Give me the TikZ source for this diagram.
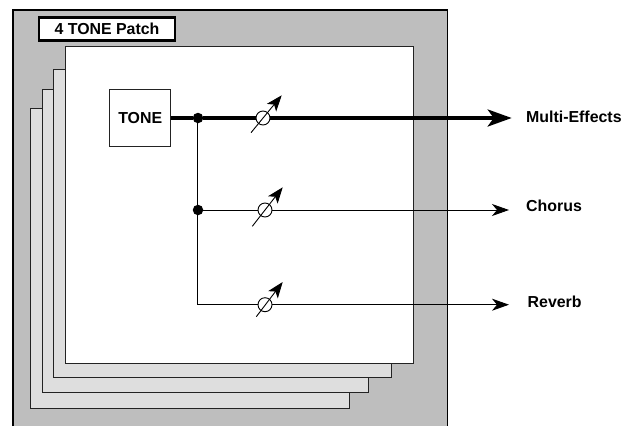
\documentclass[tikz,border=0pt]{standalone}
\usepackage{fontspec}
\setmainfont{Liberation Sans}
\usetikzlibrary{arrows.meta, positioning}
\definecolor{patchgray}{RGB}{190,190,190}
\definecolor{sheetgray}{RGB}{222,222,222}
\definecolor{inkline}{RGB}{35,35,35}
\tikzset{
  hoja/.style={rectangle, anchor=north west, inner sep=0pt, outer sep=0pt,
    draw=inkline, line width=1pt, fill=sheetgray},
  hojafront/.style={hoja, fill=white},
  caja/.style={rectangle, draw=black, fill=white, line width=2.4pt, inner sep=0pt,
    minimum width=136.5pt, minimum height=23pt, font=\fontsize{15.9}{18}\selectfont\bfseries},
  tonebox/.style={rectangle, draw=inkline, fill=white, line width=1pt, inner sep=0pt,
    minimum width=61.5pt, minimum height=57pt, font=\fontsize{15.9}{18}\selectfont\bfseries},
  etiq/.style={anchor=west, inner sep=0pt, font=\fontsize{15.9}{18}\selectfont\bfseries},
  punto/.style={circle, fill=black, inner sep=0pt, minimum size=10.5pt},
  perilla/.style={circle, draw=black, line width=0.9pt, fill=white, inner sep=0pt, minimum size=14pt},
  senal/.style={draw=black, line width=0.9pt},
  senalg/.style={draw=black, line width=3.6pt},
  flecha/.style={senal, -{Stealth[length=17pt, width=12pt, inset=5pt]}},
  flechag/.style={senalg, -{Stealth[length=24pt, width=17pt, inset=6pt]}},
  ajuste/.style={draw=black, line width=0.9pt, -{Stealth[length=16pt, width=12pt, inset=4pt]}}
}
\begin{document}
\begin{tikzpicture}[x=1pt, y=-1pt]
  \useasboundingbox (0,0) rectangle (631,426);
  % marco exterior, abierto por abajo
  \fill[patchgray] (13,10) rectangle (447.5,426);
  \draw[black, line width=1.5pt] (13,426) -- (13,10) -- (447.5,10) -- (447.5,426);
  \node[caja] (titulo) at (107,29) {4 TONE Patch};
  % hojas
  \node[hoja, minimum width=319pt, minimum height=300pt] (hoja1) at (30.7,108) {};
  \node[hoja, minimum width=325.5pt, minimum height=303pt] (hoja2) at (42.7,89) {};
  \node[hoja, minimum width=337.5pt, minimum height=308pt] (hoja3) at (53.5,69.5) {};
  \node[hojafront, minimum width=348pt, minimum height=316.5pt] (hoja4) at (65.5,46.5) {};
  % bloques
  \node[tonebox] (tone) at (140.2,118) {TONE};
  \node[punto] (dotmfx) at (198,118) {};
  \node[punto] (dotcho) at (198,210) {};
  \node[perilla] (knobmfx) at (263,118) {};
  \node[perilla] (knobcho) at (265,210) {};
  \node[perilla] (knobrev) at (265,304.7) {};
  \coordinate (mfxend) at (511.7,118);
  \coordinate (choend) at (509,210);
  \coordinate (revend) at (509,304.7);
  \coordinate (codo) at (197,304.7);
  \node[etiq] (mfx) at (526,117) {Multi-Effects};
  \node[etiq] (cho) at (526,206) {Chorus};
  \node[etiq] (rev) at (527.5,302) {Reverb};
  % conexiones
  \draw[senalg] (tone) -- (dotmfx);
  \draw[senalg] (dotmfx) -- (knobmfx);
  \draw[flechag] (knobmfx) -- (mfxend);
  \draw[senal] (codo |- dotmfx) -- (codo);
  \draw[senal] (dotcho) -- (knobcho);
  \draw[flecha] (knobcho) -- (choend);
  \draw[senal] (codo) -- (knobrev);
  \draw[flecha] (knobrev) -- (revend);
  % ajustes
  \coordinate (a1) at (251,132.7);
  \coordinate (b1) at (281.7,95.3);
  \coordinate (a2) at (252.3,226.3);
  \coordinate (b2) at (282.7,187.3);
  \coordinate (a3) at (256.3,316.7);
  \coordinate (b3) at (282.7,282);
  \draw[ajuste] (a1) -- (b1);
  \draw[ajuste] (a2) -- (b2);
  \draw[ajuste] (a3) -- (b3);
\end{tikzpicture}
\end{document}
